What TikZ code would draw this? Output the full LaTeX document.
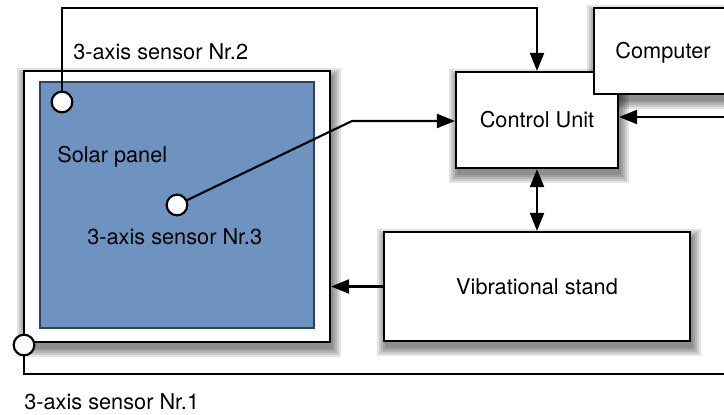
\documentclass[tikz,border=0pt]{standalone}
\usepackage{fontspec}
\setmainfont{TeX Gyre Heros}
\usetikzlibrary{arrows.meta}
\usetikzlibrary{calc}
\pgfdeclarelayer{background}
\pgfsetlayers{background,main}
\definecolor{panelblue}{RGB}{111,147,192}
\tikzset{
  block/.style={draw, fill=white, inner sep=0pt, text height=11.7pt, text depth=0pt, font=\fontsize{16.3}{19}\selectfont},
  sensor/.style={circle, draw, fill=white, minimum size=15.5pt, inner sep=0pt},
  wire/.style={line width=1.6pt},
  arrowed/.style={wire, -{Triangle[length=13.5pt,width=10.5pt]}},
  twoway/.style={wire, {Triangle[length=13.5pt,width=10.5pt]}-{Triangle[length=13.5pt,width=10.5pt]}},
  sensortext/.style={anchor=base west, inner sep=0pt, font=\fontsize{16.3}{19}\selectfont}
}
% soft shadow under a box, offset down a little
\newcommand{\boxshadow}[1]{%
  \foreach \r in {8,6,4,2,0}
    \fill[black, opacity=0.11] ($(#1.north west)+(2-\r,6-\r)$) rectangle ($(#1.south east)+(2+\r,6+\r)$);}

\begin{document}
\begin{tikzpicture}[x=0.75pt,y=0.75pt,yscale=-1,xscale=1,line width=1.6pt]
\useasboundingbox (0,0) rectangle (724,414);

% panel on its frame
\node[block, minimum width=229.5pt, minimum height=203.25pt] (frame) at (177,206.5) {};
\node[draw=panelblue!45!black, line width=1.1pt, fill=panelblue, minimum width=205.5pt, minimum height=184.5pt] (panel) at (177,205) {};

% sensors
\node[sensor] (s2) at (62,102) {};
\node[sensor] (s3) at (177,205) {};
\node[sensor] (s1) at (24,345) {};

% boxes
\node[block, minimum width=121.5pt, minimum height=72pt] (control) at (537,120) {Control Unit};
\node[block, minimum width=103.5pt, minimum height=64.5pt] (computer) at (663,51) {Computer};
\node[block, minimum width=229.5pt, minimum height=81.75pt] (stand) at (537,286.5) {Vibrational stand};

% shadows
\begin{pgfonlayer}{background}
\boxshadow{frame}
\boxshadow{control}
\boxshadow{computer}
\boxshadow{stand}
\end{pgfonlayer}

% free ends
\coordinate (topline) at (0,8);
\coordinate (kink) at (352,121);
\coordinate (pcin) at (730,117);
\coordinate (pcbottom) at (730,374);

% wires
\draw[arrowed] (s2.north) |- (control.north |- topline) -- (control.north);
\draw[arrowed] (s3) -- (kink) -- (kink -| control.west);
\draw[arrowed] (pcin) -- (pcin -| control.east);
\draw[twoway] (control.south) -- (stand.north);
\draw[arrowed] (stand.west) -- (stand.west -| frame.east);
\draw[wire] (s1.south) |- (pcbottom);

% texts
\node[sensortext] (lab2) at (73,59) {3-axis sensor Nr.2};
\node[sensortext] (labpanel) at (57,162) {Solar panel};
\node[sensortext] (lab3) at (87,244) {3-axis sensor Nr.3};
\node[sensortext] (lab1) at (24,409) {3-axis sensor Nr.1};

\end{tikzpicture}
\end{document}
